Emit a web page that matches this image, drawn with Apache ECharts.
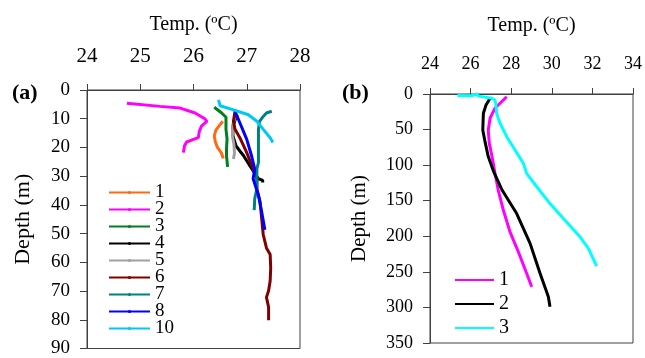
<!DOCTYPE html>
<html>
<head>
<meta charset="utf-8">
<script src="https://cdn.jsdelivr.net/npm/echarts@6/dist/echarts.min.js"></script>
<style>
  html, body { margin: 0; padding: 0; background: #fff; }
  #chart { width: 645px; height: 358px; }
</style>
</head>
<body>
<div id="chart"></div>
<script>
// Temperature profiles: each point is [temperature (ºC), depth (m)]

// Panel (a) stations
const stationNamesA = ['1', '2', '3', '4', '5', '6', '7', '8', '10'];
const profileA1 = [[26.55, 10.9], [26.48, 12.5], [26.42, 14], [26.39, 16], [26.41, 18], [26.45, 20], [26.52, 21.8], [26.56, 23.8]];
const profileA2 = [[24.75, 4.6], [25.37, 5.7], [25.75, 6.3], [26.03, 8.0], [26.22, 10.1], [26.25, 10.9], [26.15, 12.6], [26.11, 14.3], [26.09, 16.6], [26.0, 17.2], [25.87, 18.1], [25.83, 19.5], [25.81, 21.8]];
const profileA3 = [[26.39, 6.0], [26.53, 8.0], [26.61, 9.5], [26.61, 13.7], [26.63, 17], [26.62, 20.5], [26.62, 22.9], [26.64, 26.8]];
const profileA4 = [[26.82, 8.6], [26.78, 10.5], [26.74, 12.6], [26.74, 16], [26.8, 19.5], [26.94, 22.9], [27.06, 26.4], [27.15, 29], [27.22, 30.9], [27.3, 31.5], [27.3, 32.2]];
const profileA5 = [[26.78, 9.5], [26.74, 12], [26.73, 16], [26.76, 19], [26.77, 22], [26.75, 24]];
const profileA6 = [[26.78, 7.4], [26.75, 10.9], [26.78, 13.7], [26.87, 16.6], [27.0, 21.8], [27.12, 27.5], [27.19, 30.9], [27.19, 34.4], [27.25, 38.9], [27.28, 44.7], [27.31, 50.4], [27.37, 55], [27.44, 57.3], [27.45, 61.9], [27.44, 66.4], [27.41, 69.9], [27.37, 72.2], [27.41, 75.6], [27.41, 80.2]];
const profileA7 = [[27.47, 7.4], [27.37, 8.0], [27.31, 9.2], [27.24, 10.9], [27.22, 13.7], [27.22, 25.2], [27.19, 27.5], [27.19, 34.4], [27.15, 37.8], [27.14, 41.8]];
const profileA8 = [[26.78, 7.4], [26.87, 11.4], [27.0, 17.2], [27.09, 22.9], [27.15, 27.5], [27.12, 30.9], [27.22, 36.7], [27.28, 42.4], [27.34, 48.7]];
const profileA10 = [[26.47, 3.4], [26.5, 5.5], [26.75, 6.9], [27.03, 8.6], [27.19, 10.9], [27.31, 13.7], [27.44, 16.6], [27.49, 18.3]];
const coloursA = ['#ff6a13', '#ff00ff', '#00801e', '#000000', '#a0a0a0', '#800000', '#008080', '#0000ff', '#00c8f5'];

// Panel (b) stations
const stationNamesB = ['1', '2', '3'];
const profileB1 = [[27.78, 3.8], [27.45, 13], [27.2, 20], [26.96, 34], [26.87, 50.6], [26.92, 69], [27.09, 92.8], [27.2, 111.5], [27.36, 135], [27.61, 163], [27.94, 193.7], [28.35, 221.8], [28.76, 252], [29.01, 271]];
const profileB2 = [[26.96, 6], [26.76, 15.5], [26.63, 27], [26.6, 50.6], [26.71, 67], [26.87, 88], [27.12, 108], [27.55, 135], [28.27, 168], [28.93, 210], [29.42, 252], [29.83, 285], [29.91, 299]];
const profileB3 = [[25.35, 2], [26.05, 2.5], [26.3, 0.2], [26.4, 3], [27.04, 6], [27.2, 8.4], [27.25, 15.5], [27.28, 27], [27.45, 41], [27.78, 60], [28.19, 78.8], [28.6, 97.5], [28.76, 111.5], [29.25, 130], [29.91, 154], [30.57, 175], [31.39, 200.7], [31.8, 217], [32.21, 242]];
const coloursB = ['#ff00ff', '#000000', '#00ffff'];

// Axis ranges
const tempRangeA = [24, 28, 1];
const depthRangeA = [0, 90, 10];
const tempRangeB = [24, 34, 2];
const depthRangeB = [0, 350, 50];

const profilesA = [profileA1, profileA2, profileA3, profileA4, profileA5, profileA6, profileA7, profileA8, profileA10];
const profilesB = [profileB1, profileB2, profileB3];

const FONT = 'Liberation Serif';
const AXIS_COLOR = '#404040';

function tempAxis(gridIndex, range, labelSize, labelMargin, nameGap) {
  return {
    gridIndex, type: 'value', position: 'top',
    min: range[0], max: range[1], interval: range[2],
    name: 'Temp. (ºC)', nameLocation: 'middle', nameGap,
    nameTextStyle: { fontFamily: FONT, fontSize: 20, color: '#000' },
    axisLine: { show: true, lineStyle: { color: AXIS_COLOR, width: 1 } },
    axisTick: { show: true, inside: false, length: 6, lineStyle: { color: AXIS_COLOR } },
    axisLabel: { fontFamily: FONT, fontSize: labelSize, color: '#000', margin: labelMargin },
    splitLine: { show: false }
  };
}

function depthAxis(gridIndex, range, labelSize, nameSize, nameGap) {
  return {
    gridIndex, type: 'value', inverse: true,
    min: range[0], max: range[1], interval: range[2],
    name: 'Depth (m)', nameLocation: 'middle', nameGap,
    nameTextStyle: { fontFamily: FONT, fontSize: nameSize, color: '#000' },
    axisLine: { show: true, lineStyle: { color: AXIS_COLOR, width: 1 } },
    axisTick: { show: true, inside: false, length: 7, lineStyle: { color: AXIS_COLOR } },
    axisLabel: { fontFamily: FONT, fontSize: labelSize, color: '#000', margin: 17 },
    splitLine: { show: false }
  };
}

const seriesA = profilesA.map((data, i) => ({
  name: stationNamesA[i], type: 'line', xAxisIndex: 0, yAxisIndex: 0,
  data, symbol: 'none', smooth: false,
  lineStyle: { color: coloursA[i], width: 3 }, itemStyle: { color: coloursA[i] }
}));

const seriesB = profilesB.map((data, i) => ({
  name: 'B' + stationNamesB[i], type: 'line', xAxisIndex: 1, yAxisIndex: 1,
  data, symbol: 'none', smooth: false,
  lineStyle: { color: coloursB[i], width: 3 }, itemStyle: { color: coloursB[i] }
}));

const chart = echarts.init(document.getElementById('chart'), null, { renderer: 'canvas' });
chart.setOption({
  backgroundColor: '#fff',
  animation: false,
  grid: [
    { left: 87, top: 90, width: 213, height: 262, show: true, borderColor: AXIS_COLOR, borderWidth: 1, backgroundColor: 'transparent' },
    { left: 430, top: 94, width: 203, height: 249, show: true, borderColor: AXIS_COLOR, borderWidth: 1, backgroundColor: 'transparent' }
  ],
  xAxis: [
    tempAxis(0, tempRangeA, 21, 23, 55),
    tempAxis(1, tempRangeB, 18, 21, 58)
  ],
  yAxis: [
    depthAxis(0, depthRangeA, 19, 22, 53),
    depthAxis(1, depthRangeB, 18, 21, 60)
  ],
  legend: [
    {
      data: stationNamesA, orient: 'vertical', left: 108, top: 183, height: 240,
      itemWidth: 41, itemHeight: 4, itemGap: -2, padding: 0,
      textStyle: { fontFamily: FONT, fontSize: 19, color: '#000', padding: 0 }
    },
    {
      data: stationNamesB.map(n => 'B' + n), orient: 'vertical', left: 449, top: 265,
      itemWidth: 39, itemHeight: 2, itemGap: 4,
      formatter: name => name.slice(1),
      textStyle: { fontFamily: FONT, fontSize: 20, color: '#000', lineHeight: 20 }
    }
  ],
  graphic: [
    { type: 'text', left: 12, top: 82, style: { text: '(a)', font: 'bold 22px "Liberation Serif"', fill: '#000' } },
    { type: 'text', left: 342, top: 82, style: { text: '(b)', font: 'bold 22px "Liberation Serif"', fill: '#000' } }
  ],
  series: seriesA.concat(seriesB)
});
</script>
</body>
</html>
